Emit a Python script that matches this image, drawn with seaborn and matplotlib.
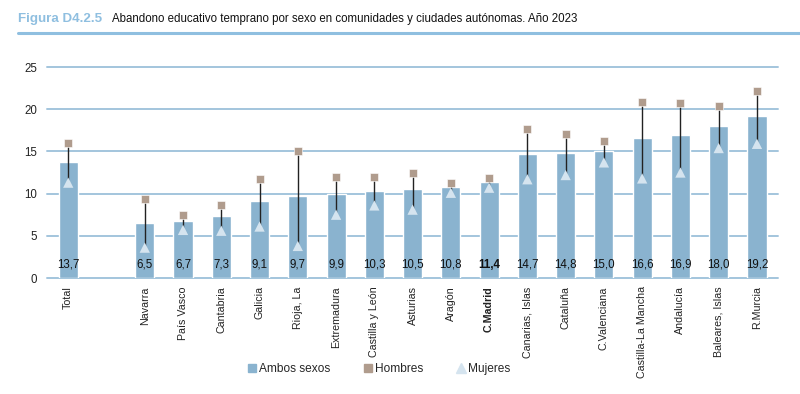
import pandas as pd
import numpy as np
import matplotlib.pyplot as plt
import seaborn as sns
from matplotlib import font_manager
from matplotlib.lines import Line2D

# Data
regions = ["Total", "Navarra", "País Vasco", "Cantabria", "Galicia", "Rioja, La",
           "Extremadura", "Castilla y León", "Asturias", "Aragón", "C.Madrid",
           "Canarias, Islas", "Cataluña", "C.Valenciana", "Castilla-La Mancha",
           "Andalucía", "Baleares, Islas", "R.Murcia"]
ambos = [13.7, 6.5, 6.7, 7.3, 9.1, 9.7, 9.9, 10.3, 10.5, 10.8, 11.4,
         14.7, 14.8, 15.0, 16.6, 16.9, 18.0, 19.2]
hombres = [16.0, 9.4, 7.5, 8.7, 11.7, 15.1, 12.0, 12.0, 12.5, 11.3, 11.9,
           17.6, 17.1, 16.2, 20.8, 20.7, 20.4, 22.1]
mujeres = [11.3, 3.6, 5.7, 5.6, 6.1, 3.8, 7.5, 8.6, 8.1, 10.1, 10.7,
           11.7, 12.2, 13.7, 11.8, 12.5, 15.4, 15.9]
y_ticks = [0, 5, 10, 15, 20, 25]

BAR = "#8ab3cf"
GRID = "#a3c5dd"
HOMB = "#b09c8d"
MUJ = "#d5e4ef"
TITLE_BLUE = "#8fbfe0"

installed = {f.name for f in font_manager.fontManager.ttflist}
FONT = "Liberation Sans Narrow" if "Liberation Sans Narrow" in installed else "Liberation Sans"

sns.set_style("white")
plt.rcParams["font.family"] = [FONT, "DejaVu Sans"]

df = pd.DataFrame({"region": regions, "ambos": ambos,
                   "hombres": hombres, "mujeres": mujeres})
# empty slot between Total and the regions
order = ["Total", " "] + regions[1:]

fig = plt.figure(figsize=(8, 3.94), dpi=100)
ax = fig.add_axes([0.059, 0.2944, 0.9135, 0.5355])

for t in y_ticks:
    ax.axhline(t, color=GRID, lw=1.4, zorder=0, clip_on=False)

sns.barplot(data=df, x="region", y="ambos", order=order, color=BAR,
            width=0.5, saturation=1, ax=ax, zorder=2)

xpos = [order.index(r) for r in df["region"]]
ax.vlines(xpos, df["mujeres"], df["hombres"], color="#222222", lw=1, zorder=3)
ax.scatter(xpos, df["hombres"], marker="s", s=40, color=HOMB,
           edgecolor="white", linewidth=0.4, zorder=4, clip_on=False)
ax.scatter(xpos, df["mujeres"], marker="^", s=55, color=MUJ,
           edgecolor="none", zorder=4, clip_on=False)

for x, r, v in zip(xpos, df["region"], df["ambos"]):
    ax.text(x, 1.6, f"{v:.1f}".replace(".", ","), ha="center", va="center",
            fontsize=8.3, color="#111111",
            fontweight="bold" if r == "C.Madrid" else "normal", zorder=5)

ax.set_ylim(0, 25)
ax.set_xlim(-0.55, len(order) - 0.45)
ax.set_yticks(y_ticks)
ax.set_yticklabels([str(t) for t in y_ticks], fontsize=8.3, color="#222222")
ax.grid(False)
for s in ax.spines.values():
    s.set_visible(False)
ax.tick_params(axis="both", length=0)
ax.tick_params(axis="y", pad=7)
ax.set_xlabel("")
ax.set_ylabel("")

ax.set_xticks(range(len(order)))
labels = ax.set_xticklabels(order, rotation=90, fontsize=7.7, color="#222222",
                            va="top", ha="center")
for lab in labels:
    if lab.get_text() == "C.Madrid":
        lab.set_fontweight("bold")
ax.tick_params(axis="x", pad=6)

# title
fig.text(0.022, 0.952, "Figura D4.2.5", fontsize=9.6, fontweight="bold",
         color=TITLE_BLUE, va="center")
fig.text(0.14, 0.952,
         "Abandono educativo temprano por sexo en comunidades y ciudades autónomas. Año 2023",
         fontsize=8.3, color="#111111", va="center")
fig.add_artist(Line2D([0.022, 1.0], [0.915, 0.915], color=TITLE_BLUE, lw=2.2))

handles = [
    Line2D([], [], marker="s", ls="none", color=BAR, markersize=6),
    Line2D([], [], marker="s", ls="none", color=HOMB, markersize=6),
    Line2D([], [], marker="^", ls="none", color=MUJ, markersize=7),
]
fig.legend(handles, ["Ambos sexos", "Hombres", "Mujeres"], loc="center",
           bbox_to_anchor=(0.472, 0.063), ncol=3, frameon=False,
           fontsize=8.6, handletextpad=0.05, handlelength=1.2, columnspacing=2.5)

fig.savefig("out.png", dpi=100)
